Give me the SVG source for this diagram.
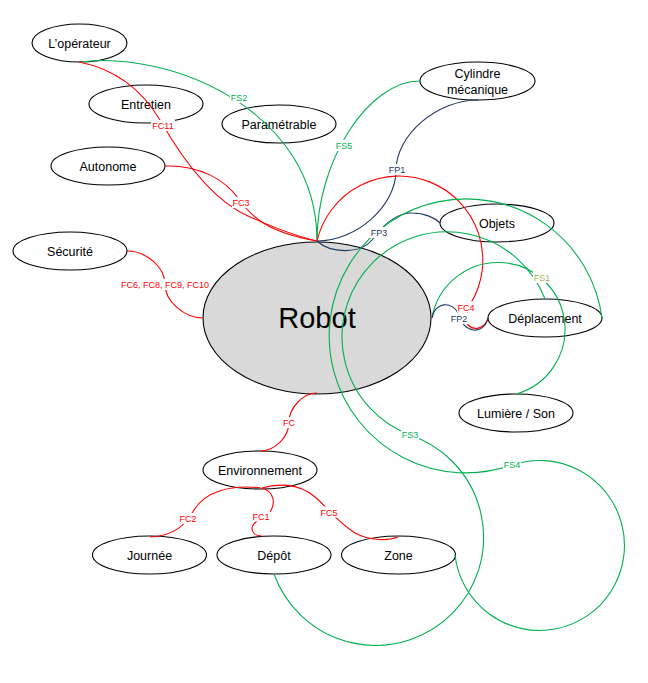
<svg xmlns="http://www.w3.org/2000/svg" width="648" height="683" viewBox="0 0 648 683">
<style>
.bg{fill:#ffffff}
.node{fill:#ffffff;stroke:#000000;stroke-width:1.1}
.robot{fill:#d9d9d9;stroke:#000000;stroke-width:1.1}
.nt{font-family:"Liberation Sans",Arial,sans-serif;font-size:12.5px;fill:#000000;text-anchor:middle}
.rt{font-family:"Liberation Sans",Arial,sans-serif;font-size:29px;fill:#000000;text-anchor:middle}
.c{fill:none;stroke-width:1.1}
.red{stroke:#ff0000}
.green{stroke:#00b050}
.blue{stroke:#203864}
.lb{fill:#ffffff}
.lt{font-family:"Liberation Sans",Arial,sans-serif;font-size:9px;text-anchor:middle}
.tr{fill:#ff0000}
.tg{fill:#00b050}
.tb{fill:#203864}
.to{fill:#9bbb59}
</style>
<rect class="bg" x="0" y="0" width="648" height="683"/>

<g id="nodes">
  <g id="n-operateur"><ellipse class="node" cx="79.5" cy="43" rx="47.5" ry="19"/><text class="nt" x="79.5" y="47.5">L’opérateur</text></g>
  <g id="n-entretien"><ellipse class="node" cx="146" cy="104" rx="57" ry="19"/><text class="nt" x="146" y="108.5">Entretien</text></g>
  <g id="n-parametrable"><ellipse class="node" cx="279" cy="124" rx="57" ry="19"/><text class="nt" x="279" y="128.5">Paramétrable</text></g>
  <g id="n-autonome"><ellipse class="node" cx="108" cy="166" rx="57" ry="19"/><text class="nt" x="108" y="170.5">Autonome</text></g>
  <g id="n-securite"><ellipse class="node" cx="70" cy="251" rx="57" ry="19"/><text class="nt" x="70" y="255.5">Sécurité</text></g>
  <g id="n-cylindre"><ellipse class="node" cx="477.5" cy="81" rx="57.5" ry="19"/><text class="nt" x="477.5" y="77.5">Cylindre</text><text class="nt" x="477.5" y="93.5">mécanique</text></g>
  <g id="n-objets"><ellipse class="node" cx="497" cy="223" rx="57" ry="19"/><text class="nt" x="497" y="227.5">Objets</text></g>
  <g id="n-deplacement"><ellipse class="node" cx="545" cy="318" rx="57" ry="19"/><text class="nt" x="545" y="322.5">Déplacement</text></g>
  <g id="n-lumiere"><ellipse class="node" cx="516" cy="413" rx="57" ry="19"/><text class="nt" x="516" y="417.5">Lumière / Son</text></g>
  <g id="n-robot"><ellipse class="robot" cx="317" cy="318" rx="114" ry="76"/><text class="rt" x="317" y="328">Robot</text></g>
  <g id="n-environnement"><ellipse class="node" cx="260" cy="470" rx="57" ry="19"/><text class="nt" x="260" y="474.5">Environnement</text></g>
  <g id="n-journee"><ellipse class="node" cx="149.5" cy="555" rx="57" ry="19"/><text class="nt" x="149.5" y="559.5">Journée</text></g>
  <g id="n-depot"><ellipse class="node" cx="274" cy="555" rx="57" ry="19"/><text class="nt" x="274" y="559.5">Dépôt</text></g>
  <g id="n-zone"><ellipse class="node" cx="398.5" cy="555" rx="57" ry="19"/><text class="nt" x="398.5" y="559.5">Zone</text></g>
</g>

<g id="connectors">
  <path class="c green" d="M 79 62 C 170 50, 317 110, 317 241"/>
  <path class="c red" d="M 79 62 C 120 70, 145 95, 160 120 C 180 155, 210 200, 250 217 C 275 228, 300 237, 317 241"/>
  <path class="c red" d="M 165 166 C 200 165, 225 180, 238 198 C 250 215, 265 232, 317 241"/>
  <path class="c green" d="M 420 81 C 368 81, 317 161, 317 241"/>
  <path class="c blue" d="M 478 100 C 437 100, 396 135, 396 170.5 C 396 206, 356.5 241, 317 241"/>
  <path class="c red" d="M 317 241 A 84 84 0 1 1 471 303 C 466 312, 465 322, 468 325 C 474 331, 485 329, 488 318"/>
  <path class="c blue" d="M 317 241 C 330 253, 360 255, 372 240 C 385 222, 400 212, 412 213 C 425 213, 435 218, 440 223"/>
  <path class="c green" d="M 432 318 A 67 67 0 1 1 516 394"/>
  <path class="c blue" d="M 432 318 C 434 303, 452 299, 459 315 C 463 333, 484 336, 488 318"/>
  <path class="c green" d="M 545 299 A 105 105 0 1 0 410 435 A 108 108 0 1 1 274 574"/>
  <path class="c green" d="M 602 318 A 137 137 0 1 0 512 465 A 85 85 0 1 1 455 555"/>
  <path class="c red" d="M 127 251 C 146 251, 165 267, 165 284.5 C 165 301, 184 318, 203 318"/>
  <path class="c red" d="M 317 393 C 303 393, 289 408, 289 422 C 289 437, 275 451, 260 451"/>
  <path class="c red" d="M 261 488 C 230 484, 205 492, 194 510 C 186 524, 175 536, 150 537"/>
  <path class="c red" d="M 262 488 C 275 492, 276 505, 269 513 C 262 519, 252 522, 252 528 C 252 533, 256 536, 262 536"/>
  <path class="c red" d="M 262 488 C 275 484, 298 482, 315 497 C 325 505, 335 520, 355 533 C 370 541, 388 541, 398 537"/>

  <g id="labels">
    <rect class="lb" x="230" y="92" width="18" height="11"/><text class="lt tg" x="239" y="101.2">FS2</text>
    <rect class="lb" x="151" y="120" width="24" height="11"/><text class="lt tr" x="163" y="129.2">FC11</text>
    <rect class="lb" x="232" y="197" width="18" height="11"/><text class="lt tr" x="241" y="206.2">FC3</text>
    <rect class="lb" x="335" y="140" width="18" height="11"/><text class="lt tg" x="344" y="149.2">FS5</text>
    <rect class="lb" x="388" y="164" width="18" height="11"/><text class="lt tb" x="397" y="173.2">FP1</text>
    <rect class="lb" x="370" y="227" width="18" height="11"/><text class="lt tb" x="379" y="236.2">FP3</text>
    <rect class="lb" x="533" y="272" width="18" height="11"/><text class="lt to" x="542" y="281.2">FS1</text>
    <rect class="lb" x="457" y="301.5" width="18" height="11"/><text class="lt tr" x="466" y="310.7">FC4</text>
    <rect class="lb" x="450" y="313" width="18" height="11"/><text class="lt tb" x="459" y="322.2">FP2</text>
    <rect class="lb" x="120" y="279" width="90" height="11"/><text class="lt tr" x="165" y="288.2">FC6, FC8, FC9, FC10</text>
    <rect class="lb" x="282" y="417" width="14" height="11"/><text class="lt tr" x="289" y="426.2">FC</text>
    <rect class="lb" x="179" y="513" width="18" height="11"/><text class="lt tr" x="188" y="522.2">FC2</text>
    <rect class="lb" x="252" y="510.5" width="18" height="11"/><text class="lt tr" x="261" y="519.7">FC1</text>
    <rect class="lb" x="320" y="506.5" width="18" height="11"/><text class="lt tr" x="329" y="515.7">FC5</text>
    <rect class="lb" x="401" y="429" width="18" height="11"/><text class="lt tg" x="410" y="438.2">FS3</text>
    <rect class="lb" x="503" y="459" width="18" height="11"/><text class="lt tg" x="512" y="468.2">FS4</text>
  </g>
</g>
</svg>
